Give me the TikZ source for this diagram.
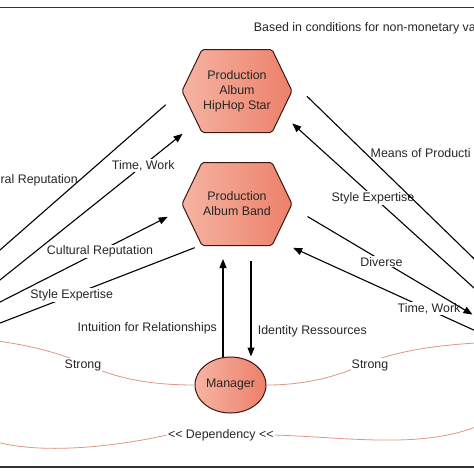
\documentclass[tikz,border=0pt]{standalone}
\usepackage{fontspec}
\setmainfont{Liberation Sans}
\usetikzlibrary{arrows.meta,shapes.geometric,shapes.symbols}
\definecolor{hexlight}{RGB}{246,180,162}
\definecolor{hexdark}{RGB}{236,128,106}
\definecolor{hexline}{RGB}{60,24,18}
\definecolor{tiecol}{RGB}{222,150,134}
\definecolor{txtcol}{RGB}{38,38,38}
\tikzset{
    hexa/.style = {signal, signal to=east and west, signal pointer angle=128.6,
        draw=hexline, line width=1pt, left color=hexlight, right color=hexdark,
        minimum width=110pt, minimum height=83pt, inner sep=0pt,
        align=center, rounded corners=2pt},
    mgrbox/.style = {ellipse, draw=hexline, line width=1pt,
        left color=hexlight, right color=hexdark,
        minimum width=71pt, minimum height=56pt, inner sep=0pt},
    lbl/.style = {fill=white, inner sep=1pt},
    arrow/.style = {draw, -{Triangle[length=9pt,width=7pt]}, line width=1.1pt},
    link/.style = {draw, line width=1.1pt},
    tie/.style = {draw=tiecol, line width=0.8pt},
    frame/.style = {draw=black!80, line width=1.8pt}
}

\begin{document}
\begin{tikzpicture}[x=1pt, y=-1pt, font=\fontsize{12.4}{15}\selectfont, text=txtcol]
\useasboundingbox (0,0) rectangle (474,474);
\clip (0,0) rectangle (474,474);
\draw[frame] (-10,7.5) -- (484,7.5);
\draw[frame] (-10,467) -- (484,467);

\node[hexa] (star) at (237,91) {Production\\Album\\HipHop Star};
\node[hexa] (band) at (237,204) {Production\\Album Band};
\node[mgrbox] (mgr) at (230.5,385) {Manager};
\node[anchor=west, inner sep=0pt] (cond) at (253.7,28.3) {Based in conditions for non-monetary va};

% ends outside the picture
\coordinate (lt1) at (-20,267.5);
\coordinate (lt2) at (-20,296);
\coordinate (lt3) at (-20,312.2);
\coordinate (lt4) at (-20,330.8);
\coordinate (lt5) at (-30,338);
\coordinate (lt6) at (-20,436);
\coordinate (rt1) at (500,284);
\coordinate (rt2) at (500,311.5);
\coordinate (rt3) at (472.5,314.5);
\coordinate (rt4) at (500,342);
\coordinate (rt5) at (500,342);
\coordinate (rt6) at (500,415);

% left
\draw[link, shorten >=21pt] (lt1) -- (star.west);
\node[anchor=east, inner sep=0pt] (cultA) at (78,180) {ral Reputation};
\draw[arrow, shorten >=18pt] (lt2) -- (star.218);
\node[lbl] (timeA) at (143.3,165.5) {Time, Work};
\draw[arrow, shorten >=18pt] (lt3) -- (band.185);
\node[lbl] (cultB) at (100,251.7) {Cultural Reputation};
\draw[link, shorten >=7pt] (lt4) -- (band.229);
\node[lbl] (styleA) at (71.7,295) {Style Expertise};

% right
\draw[arrow, shorten >=19.5pt] (rt4) -- (band.-43);
\node[lbl] (timeB) at (429,308.5) {Time, Work};
\draw[arrow, shorten <=19pt] (band.-3) -- (rt3);
\node[lbl] (divers) at (381.5,261.7) {Diverse};
\draw[arrow, shorten >=14.4pt] (rt2) -- (star.-27);
\node[lbl] (styleB) at (373,198) {Style Expertise};
\node[anchor=west, inner sep=0pt] (means) at (370.5,153.5) {Means of Producti};
\draw[link, shorten >=31pt] (rt1) -- (star.19);

% manager
\draw[arrow, shorten >=13pt] ([xshift=-7.5pt]mgr.north) -- ([xshift=-14pt]band.south);
\draw[arrow, shorten <=15pt] ([xshift=14pt]band.south) -- ([xshift=20.5pt]mgr.north);
\node (intu) at (147.3,328) {Intuition for Relationships};
\node (ident) at (312.3,331.3) {Identity Ressources};

\draw[tie] (mgr.west) .. controls (160,385) and (125,381) .. (95,368)
    .. controls (65,355) and (30,343) .. (lt5);
\node[lbl] (strongA) at (83,365) {Strong};
\draw[tie] (mgr.east) .. controls (300,385) and (330,379) .. (360,366)
    .. controls (390,353) and (430,344) .. (rt5);
\node[lbl] (strongB) at (370,365) {Strong};

\node[lbl] (dep) at (220.8,435) {<\kern0pt< Dependency <\kern0pt<};
\draw[tie] (lt6) .. controls (20,455) and (100,450) .. (dep.west);
\draw[tie] (dep.east) .. controls (360,438) and (440,452) .. (rt6);
\end{tikzpicture}
\end{document}
